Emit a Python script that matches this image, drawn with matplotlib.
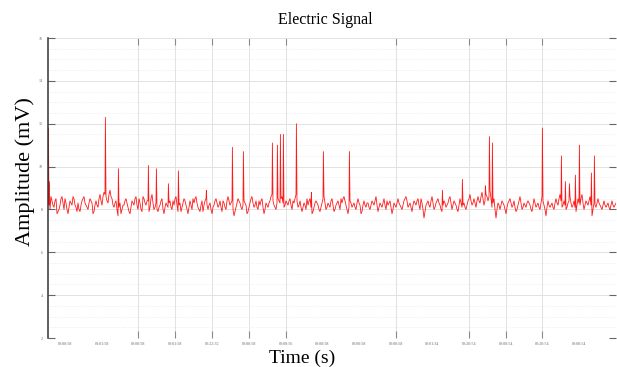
import numpy as np
import matplotlib
matplotlib.use("Agg")
import matplotlib.pyplot as plt

# baseline samples, one every 0.1 s starting at t = 0
baseline = [
    8.3, 8.0, 8.4, 8.1, 8.5, 7.9, 8.2, 8.6, 8.0, 8.3, 7.8, 8.4, 8.2, 8.5, 8.1, 8.3, 7.9, 8.4, 8.6, 8.2,
    8.0, 8.5, 8.3, 7.9, 8.4, 8.1, 8.7, 8.2, 8.8, 8.6, 8.3, 8.9, 8.5, 8.1, 8.4, 7.7, 8.3, 8.0, 8.2, 8.5,
    8.1, 7.8, 8.4, 8.2, 8.6, 8.0, 8.3, 7.9, 8.5, 8.2, 8.4, 8.1, 8.7, 8.0, 8.3, 7.9, 8.2, 8.5, 7.8, 8.3,
    8.1, 8.4, 8.0, 8.2, 8.6, 7.9, 8.3, 8.1, 8.5, 8.2, 7.8, 8.4, 8.0, 8.3, 8.6, 8.1, 7.9, 8.4, 8.2, 8.5,
    8.0, 8.3, 7.8, 8.2, 8.5, 8.1, 8.4, 7.9, 8.3, 8.0, 8.6, 8.2, 8.4, 7.7, 8.1, 8.5, 8.3, 8.0, 8.4, 8.2,
    7.9, 8.3, 8.6, 8.1, 8.4, 8.0, 8.2, 8.5, 7.8, 8.3, 8.1, 8.4, 8.7, 8.2, 8.0, 8.5, 8.3, 8.6, 8.1, 8.4,
    8.2, 8.5, 8.0, 8.3, 8.7, 8.1, 8.4, 7.9, 8.3, 8.0, 8.2, 8.5, 7.8, 8.1, 8.4, 8.2, 7.9, 8.3, 8.6, 8.0,
    8.3, 8.1, 8.5, 7.9, 8.2, 8.4, 8.0, 8.3, 8.6, 8.2, 7.8, 8.4, 8.1, 8.3, 8.0, 8.5, 8.2, 7.9, 8.4, 8.1,
    8.3, 8.0, 8.4, 8.2, 8.6, 7.9, 8.3, 8.1, 8.5, 8.0, 8.2, 8.4, 7.8, 8.3, 8.1, 8.5, 8.2, 8.0, 8.4, 8.6,
    8.1, 8.3, 7.9, 8.4, 8.2, 8.5, 8.0, 8.3, 7.6, 8.2, 8.4, 8.1, 8.6, 8.0, 8.3, 8.5, 8.2, 7.9, 8.4, 8.1,
    8.3, 8.6, 8.0, 8.4, 8.2, 7.9, 8.5, 8.1, 8.3, 8.0, 8.4, 8.7, 8.2, 8.5, 8.1, 8.6, 8.3, 8.8, 8.2, 8.7,
    8.4, 8.9, 8.1, 8.5, 7.6, 8.3, 8.0, 8.4, 8.2, 7.8, 8.3, 8.5, 8.1, 8.4, 7.9, 8.2, 8.6, 8.0, 8.3, 8.1,
    8.4, 8.2, 7.9, 8.5, 8.1, 8.3, 8.0, 8.6, 8.2, 7.7, 8.4, 8.1, 8.3, 8.0, 8.5, 8.2, 8.7, 8.1, 8.4, 8.0,
    8.3, 8.6, 8.1, 8.4, 7.9, 8.5, 8.2, 8.7, 8.0, 8.4, 8.2, 8.6, 7.7, 8.3, 8.1, 8.5, 8.2, 8.0, 8.4, 8.1,
    8.3, 8.0, 8.4, 8.1, 8.3,
]
# samples taken half-way between the ones above (t = 0.05, 0.15, ...)
baseline_mid = [
    8.2, 8.6, 8.2, 8.4, 7.8, 8.0, 8.5, 8.3, 8.5, 8.0, 8.1, 8.3, 8.6, 8.2, 7.9, 8.0, 8.2, 8.5, 8.3, 8.1,
    8.3, 8.4, 7.8, 8.2, 8.2, 8.5, 8.4, 8.6, 8.7, 8.4, 8.7, 8.6, 8.2, 8.3, 8.0, 8.1, 7.8, 8.2, 8.4, 8.3,
    7.9, 8.1, 8.3, 8.5, 8.2, 8.5, 8.0, 8.6, 8.3, 8.4, 7.9, 8.5, 8.3, 8.1, 8.0, 8.1, 8.4, 8.0, 8.1, 8.2,
    8.3, 8.1, 8.4, 8.5, 8.2, 8.2, 7.9, 8.3, 8.4, 8.0, 8.1, 8.2, 8.5, 8.5, 8.3, 8.0, 8.2, 7.9, 8.4, 8.2,
    8.2, 8.0, 8.1, 8.4, 8.3, 8.2, 8.1, 8.4, 8.1, 8.4, 8.4, 8.3, 8.0, 7.9, 8.3, 8.4, 8.1, 8.2, 8.3, 7.8,
    8.1, 8.5, 8.3, 8.2, 8.1, 8.4, 8.4, 8.1, 8.0, 8.2, 8.3, 8.6, 8.4, 8.1, 8.3, 8.4, 8.5, 8.3, 8.2, 8.3,
    8.4, 8.2, 8.4, 8.5, 8.4, 8.2, 8.1, 8.1, 8.2, 8.5, 8.4, 8.1, 7.9, 8.3, 8.3, 8.0, 8.1, 8.5, 8.3, 8.1,
    8.2, 8.4, 8.2, 8.0, 8.3, 8.2, 8.5, 8.5, 8.4, 8.0, 8.1, 8.3, 8.2, 8.1, 8.3, 8.3, 7.8, 8.2, 8.2, 8.3,
    8.1, 8.2, 8.3, 8.4, 8.2, 8.1, 8.2, 8.3, 8.2, 8.4, 8.3, 8.1, 8.0, 8.2, 8.3, 8.3, 8.1, 8.2, 8.5, 8.4,
    8.2, 8.1, 8.2, 8.3, 8.4, 8.2, 8.5, 8.0, 7.9, 8.3, 8.2, 8.4, 8.3, 8.1, 8.4, 8.3, 8.0, 8.2, 8.3, 8.2,
    8.5, 8.3, 8.2, 8.3, 8.0, 8.2, 8.3, 8.2, 8.1, 8.2, 8.5, 8.4, 8.3, 8.3, 8.4, 8.4, 8.6, 8.5, 8.4, 8.6,
    8.6, 8.5, 8.3, 8.0, 8.0, 8.2, 8.2, 8.3, 8.0, 8.1, 8.4, 8.3, 8.2, 8.1, 8.0, 8.4, 8.3, 8.1, 8.2, 8.3,
    8.3, 8.0, 8.2, 8.3, 8.2, 8.1, 8.3, 8.4, 8.0, 8.1, 8.2, 8.2, 8.1, 8.3, 8.3, 8.5, 8.4, 8.2, 8.2, 8.1,
    8.4, 8.3, 8.2, 8.1, 8.2, 8.3, 8.5, 8.3, 8.2, 8.3, 8.4, 8.2, 8.0, 8.2, 8.3, 8.3, 8.1, 8.2, 8.2, 8.2,
    8.1, 8.2, 8.2, 8.2,
]
sample_step = 0.1

# isolated spikes (time in s, amplitude in mV)
spike_t = [0.02, 0.06, 2.87, 3.52, 5.02, 5.42, 6.02, 6.52, 7.92, 9.22, 9.77,
           11.22, 11.47, 11.62, 11.77, 12.42, 13.17, 13.77, 15.07, 19.72, 20.72,
           21.87, 22.07, 22.22, 24.72, 25.67, 25.87, 26.07, 26.37, 26.57, 27.17, 27.32]
spike_v = [11.8, 9.3, 12.3, 9.9, 10.05, 9.9, 9.2, 9.8, 8.9, 10.9, 10.7,
           11.1, 11.0, 11.5, 11.5, 12.0, 8.8, 10.7, 10.7, 8.9, 9.4,
           9.1, 11.4, 11.1, 11.8, 10.5, 9.3, 9.2, 9.6, 11.0, 9.7, 10.5]

tick_pos = [0.85, 2.7, 4.5, 6.35, 8.2, 10.05, 11.9, 13.7, 15.55, 17.4, 19.2,
            21.05, 22.9, 24.7, 26.55]
tick_labels = ["00:00:58", "00:01:58", "00:00:58", "00:01:58", "00:22:32",
               "00:00:58", "00:00:56", "00:00:58", "00:00:58", "00:00:58",
               "00:01:34", "00:20:54", "00:00:54", "00:20:54", "00:00:54"]
grid_pos = [4.5, 6.35, 8.2, 10.05, 11.9, 17.4, 21.05, 22.9, 24.7]

t_base = np.arange(len(baseline)) * sample_step
t_mid = np.arange(len(baseline_mid)) * sample_step + sample_step / 2
t = np.concatenate([t_base, t_mid, spike_t])
v = np.concatenate([baseline, baseline_mid, spike_v])
order = np.argsort(t, kind="stable")
t, v = t[order], v[order]

plt.rcParams["font.family"] = ["Liberation Serif", "DejaVu Serif"]

fig = plt.figure(figsize=(6.17, 3.67), dpi=100)
ax = fig.add_axes([48 / 617, 1 - 338 / 367, 568 / 617, 300 / 367])

ax.plot(t, v, color="#ff0000", lw=0.6, alpha=0.9)

ax.set_xlim(0, t_base[-1])
ax.set_ylim(2, 16)

ax.set_xticks(tick_pos)
ax.set_xticklabels(tick_labels)
ax.set_xticks(grid_pos, minor=True)
ax.xaxis.remove_overlapping_locs = False
ax.tick_params(axis="x", which="major", length=0, labelsize=3, colors="#666666", pad=3)
ax.tick_params(axis="x", which="minor", length=5, width=0.8, direction="in",
               top=True, bottom=True, color="#8a8a8a")

ax.set_yticks(np.arange(2, 17, 2))
ax.set_yticks(np.arange(2, 16.01, 0.5), minor=True)
ax.tick_params(axis="y", which="major", length=5, width=0.8, direction="in",
               left=True, right=True, labelsize=3, colors="#666666", pad=4)
ax.tick_params(axis="y", which="minor", length=0)

ax.grid(which="minor", axis="x", color="#e2e2e2", lw=0.7)
ax.grid(which="major", axis="y", color="#e2e2e2", lw=0.7)
ax.grid(which="minor", axis="y", color="#e8e8e8", lw=0.6, ls=":")
ax.grid(which="major", axis="x", visible=False)

for side in ["top", "right", "bottom"]:
    ax.spines[side].set_visible(False)
ax.spines["left"].set_color("#333333")
ax.spines["left"].set_linewidth(1.1)

fig.text(325 / 617, 1 - 20 / 367, "Electric Signal", ha="center", va="center", fontsize=11.5)
fig.text(302 / 617, 1 - 358 / 367, "Time (s)", ha="center", va="center", fontsize=14)
fig.text(25 / 617, 1 - 172 / 367, "Amplitude (mV)", ha="center", va="center",
         rotation=90, fontsize=16)

fig.savefig("out.png", dpi=100)
